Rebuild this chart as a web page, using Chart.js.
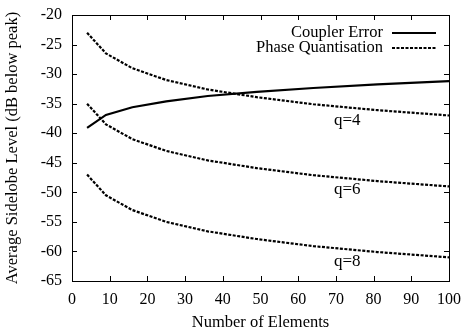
<!DOCTYPE html>
<html>
<head>
<meta charset="utf-8">
<script src="https://cdn.jsdelivr.net/npm/chart.js@4.4.0/dist/chart.umd.min.js"></script>
<style>
  html, body { margin: 0; padding: 0; background: #fff; }
  #wrap { width: 462px; height: 330px; }
</style>
</head>
<body>
<div id="wrap"><canvas id="chart" width="462" height="330"></canvas></div>
<script>
// number of elements (x values)
const elements = [4, 9, 16, 25, 36, 49, 64, 81, 100];
const couplerError = [-39.1, -36.9, -35.6, -34.6, -33.7, -33.0, -32.35, -31.75, -31.2];
const phaseQ4 = [-23.0, -26.5, -29.0, -31.0, -32.6, -33.9, -35.1, -36.1, -37.0];
const phaseQ6 = [-35.0, -38.5, -41.0, -43.0, -44.6, -45.9, -47.1, -48.1, -49.0];
const phaseQ8 = [-47.0, -50.5, -53.0, -55.0, -56.6, -57.9, -59.1, -60.1, -61.0];

// curve labels and where they sit
const curveLabels = ['q=4', 'q=6', 'q=8'];
const labelX = [73, 73, 73];
const labelY = [-37.8, -49.6, -61.7];

const legendNames = ['Coupler Error', 'Phase Quantisation'];

const serif = '"Liberation Serif", "DejaVu Serif", serif';
const dots = [3, 1.5];

function toPoints(ys) {
    return elements.map((x, i) => ({ x: x, y: ys[i] }));
}

// box, inward ticks, legend and curve labels
const framePlugin = {
    id: 'frame',
    afterDraw(chart) {
        const ctx = chart.ctx;
        const a = chart.chartArea;
        const xs = chart.scales.x;
        const ys = chart.scales.y;
        ctx.save();
        ctx.strokeStyle = '#000';
        ctx.lineWidth = 1;
        ctx.setLineDash([]);
        ctx.strokeRect(Math.round(a.left) + 0.5, Math.round(a.top) + 0.5,
            Math.round(a.right - a.left), Math.round(a.bottom - a.top));

        const tl = 5;
        xs.ticks.forEach(t => {
            const px = Math.round(xs.getPixelForValue(t.value)) + 0.5;
            ctx.beginPath();
            ctx.moveTo(px, a.bottom); ctx.lineTo(px, a.bottom - tl);
            ctx.moveTo(px, a.top); ctx.lineTo(px, a.top + tl);
            ctx.stroke();
        });
        ys.ticks.forEach(t => {
            const py = Math.round(ys.getPixelForValue(t.value)) + 0.5;
            ctx.beginPath();
            ctx.moveTo(a.left, py); ctx.lineTo(a.left + tl, py);
            ctx.moveTo(a.right, py); ctx.lineTo(a.right - tl, py);
            ctx.stroke();
        });

        // legend
        ctx.font = '16.5px ' + serif;
        ctx.fillStyle = '#000';
        ctx.textAlign = 'right';
        ctx.textBaseline = 'middle';
        const rows = [33, 48];
        legendNames.forEach((name, i) => {
            ctx.fillText(name, 383, rows[i]);
            ctx.beginPath();
            ctx.lineWidth = 2.2;
            ctx.setLineDash(i === 0 ? [] : dots);
            ctx.moveTo(392, rows[i]);
            ctx.lineTo(436, rows[i]);
            ctx.stroke();
        });
        ctx.setLineDash([]);

        // curve labels
        ctx.font = '17px ' + serif;
        ctx.textAlign = 'center';
        curveLabels.forEach((txt, i) => {
            ctx.fillText(txt, xs.getPixelForValue(labelX[i]), ys.getPixelForValue(labelY[i]));
        });
        ctx.restore();
    }
};

const lineStyle = (data, dashed) => ({
    data: toPoints(data),
    borderColor: '#000',
    borderWidth: 2.2,
    borderDash: dashed ? dots : [],
    pointRadius: 0,
    fill: false,
    tension: 0
});

new Chart(document.getElementById('chart').getContext('2d'), {
    type: 'line',
    data: {
        datasets: [
            lineStyle(couplerError, false),
            lineStyle(phaseQ4, true),
            lineStyle(phaseQ6, true),
            lineStyle(phaseQ8, true)
        ]
    },
    options: {
        responsive: false,
        animation: false,
        layout: { padding: { top: 15, right: 13, left: 0, bottom: 0 } },
        plugins: {
            legend: { display: false },
            tooltip: { enabled: false }
        },
        scales: {
            x: {
                type: 'linear',
                min: 0,
                max: 100,
                grid: { display: false, drawTicks: false },
                border: { display: false },
                ticks: {
                    stepSize: 10,
                    padding: 9,
                    color: '#000',
                    maxRotation: 0,
                    font: { family: serif, size: 16 }
                },
                title: {
                    display: true,
                    text: 'Number of Elements',
                    color: '#000',
                    padding: { top: 4, bottom: -3 },
                    font: { family: serif, size: 16.5 }
                },
                afterFit: s => {
                    s.height = 49;
                    s.paddingLeft = 0;
                    s.paddingRight = 0;
                }
            },
            y: {
                min: -65,
                max: -20,
                grid: { display: false, drawTicks: false },
                border: { display: false },
                ticks: {
                    stepSize: 5,
                    padding: 10,
                    color: '#000',
                    font: { family: serif, size: 16 }
                },
                title: {
                    display: true,
                    text: 'Average Sidelobe Level (dB below peak)',
                    color: '#000',
                    padding: { top: 3, bottom: 4 },
                    font: { family: serif, size: 16.5 }
                },
                afterFit: s => {
                    s.width = 72;
                    s.paddingTop = 0;
                    s.paddingBottom = 0;
                }
            }
        }
    },
    plugins: [framePlugin]
});
</script>
</body>
</html>
